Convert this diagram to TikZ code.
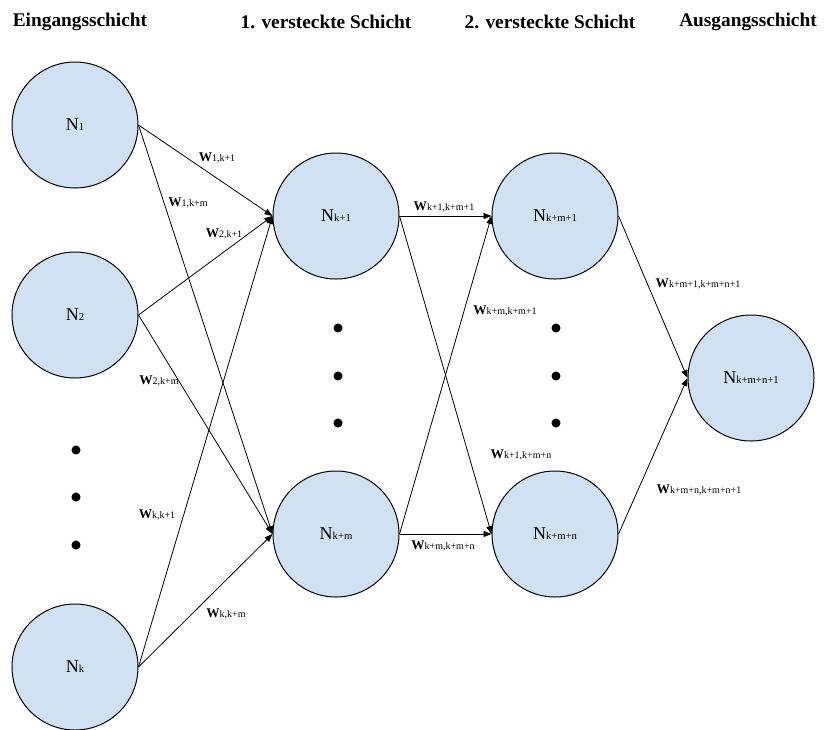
\documentclass[tikz,border=0pt]{standalone}
\usepackage{fontspec}
\setmainfont{Liberation Serif}
\usetikzlibrary{arrows.meta}
\definecolor{neuronblue}{RGB}{207,225,242}
\newcommand{\neur}[1]{N{\fontsize{8}{9}\selectfont #1}}
\newcommand{\gew}[1]{\textbf{W}{\fontsize{7.5}{9}\selectfont #1}}
\begin{document}
\begin{tikzpicture}[x=0.75pt,y=-0.75pt,
  neuron/.style={circle,draw,line width=0.75pt,fill=neuronblue,minimum size=94.5pt,inner sep=0pt,font=\fontsize{13.5}{15}\selectfont},
  layer/.style={font=\fontsize{14.5}{16}\selectfont\bfseries},
  weight/.style={inner sep=1pt,font=\fontsize{10}{12}\selectfont},
  conn/.style={-{Triangle[length=6pt,width=4.5pt]},line width=0.6pt}]
\useasboundingbox (0,0) rectangle (828,729);
\node[layer] (h1) at (80,22) {Eingangsschicht};
\node[layer] (h2) at (326,22) {1. versteckte Schicht};
\node[layer] (h3) at (550,22) {2. versteckte Schicht};
\node[layer] (h4) at (748,22) {Ausgangsschicht};
\node[neuron] (n1) at (75,125) {\neur{1}};
\node[neuron] (n2) at (75,315) {\neur{2}};
\node[neuron] (nk) at (75,667) {\neur{k}};
\node[neuron] (nk1) at (336,216) {\neur{k+1}};
\node[neuron] (nkm) at (336,534) {\neur{k+m}};
\node[neuron] (nkm1) at (555,216) {\neur{k+m+1}};
\node[neuron] (nkmn) at (555,534) {\neur{k+m+n}};
\node[neuron] (out) at (751,378) {\neur{k+m+n+1}};
\foreach \y in {450,497,545} \fill (76,\y) circle[radius=3.4pt];
\foreach \y in {328,376,423} {
  \fill (338,\y) circle[radius=3.4pt];
  \fill (556,\y) circle[radius=3.4pt];
}
\draw[conn] (n1.east) -- (nk1.west);
\draw[conn] (n1.east) -- (nkm.west);
\draw[conn] (n2.east) -- (nk1.west);
\draw[conn] (n2.east) -- (nkm.west);
\draw[conn] (nk.east) -- (nk1.west);
\draw[conn] (nk.east) -- (nkm.west);
\draw[conn] (nk1.east) -- (nkm1.west);
\draw[conn] (nk1.east) -- (nkmn.west);
\draw[conn] (nkm.east) -- (nkm1.west);
\draw[conn] (nkm.east) -- (nkmn.west);
\draw[conn] (nkm1.east) -- (out.west);
\draw[conn] (nkmn.east) -- (out.west);
\node[weight] (w1) at (217,158) {\gew{1,k+1}};
\node[weight] (w2) at (188,203) {\gew{1,k+m}};
\node[weight] (w3) at (224,234) {\gew{2,k+1}};
\node[weight] (w4) at (159,381) {\gew{2,k+m}};
\node[weight] (w5) at (157,515) {\gew{k,k+1}};
\node[weight] (w6) at (226,614) {\gew{k,k+m}};
\node[weight] (w7) at (444,207) {\gew{k+1,k+m+1}};
\node[weight] (w8) at (505,311) {\gew{k+m,k+m+1}};
\node[weight] (w9) at (521,455) {\gew{k+1,k+m+n}};
\node[weight] (w10) at (443,546) {\gew{k+m,k+m+n}};
\node[weight] (w11) at (698,284) {\gew{k+m+1,k+m+n+1}};
\node[weight] (w12) at (699,490) {\gew{k+m+n,k+m+n+1}};
\end{tikzpicture}
\end{document}
